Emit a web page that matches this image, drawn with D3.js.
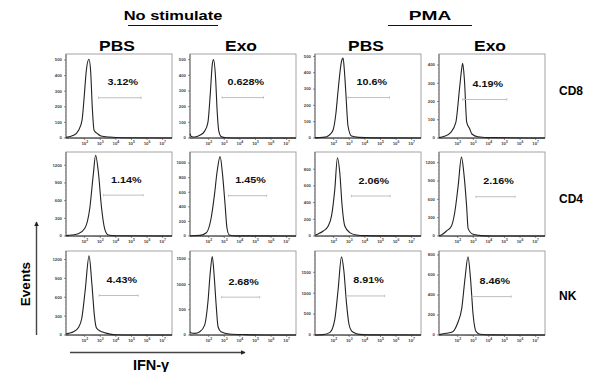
<!DOCTYPE html>
<html>
<head>
<meta charset="utf-8">
<script src="https://cdn.jsdelivr.net/npm/d3@7"></script>
<style>
  body { margin: 0; background: #fff; }
  svg { display: block; }
  text { font-family: Arial, "Liberation Sans", sans-serif; }
</style>
</head>
<body>
<svg id="chart" width="590" height="372"></svg>
<script>
// ---- data ----
const groupLabels = ['No stimulate', 'PMA'];
const colLabels = ['PBS', 'Exo', 'PBS', 'Exo'];
const rowLabels = ['CD8', 'CD4', 'NK'];
const percentLabels = [
  ['3.12%', '0.628%', '10.6%', '4.19%'],
  ['1.14%', '1.45%', '2.06%', '2.16%'],
  ['4.43%', '2.68%', '8.91%', '8.46%'],
];
const xDomainExp = [0.8, 7.6];
const xTickExp = [2, 3, 4, 5, 6, 7];
const yTicks = [
  [[0, 100, 200, 300, 400, 500], [0, 100, 200, 300, 400, 500], [0, 100, 200, 300, 400, 500], [0, 100, 200, 300, 400]],
  [[0, 300, 600, 900, 1200], [0, 200, 400, 600, 800, 1000], [0, 200, 400, 600, 800], [0, 300, 600, 900, 1200]],
  [[0, 300, 600, 900, 1200], [0, 500, 1000, 1500], [0, 500, 1000, 1500], [0, 200, 400, 600, 800]],
];
const yMax = [
  [539, 536, 515, 460],
  [1425, 1152, 1006, 1375],
  [1335, 1660, 2009, 840],
];
// gate marker: [start exponent, end exponent, event level]
const gates = [
  [[2.89, 5.62, 258], [2.86, 5.52, 258], [2.92, 5.58, 248], [2.32, 5.15, 211]],
  [[3.21, 5.75, 693], [3.27, 5.72, 553], [3.14, 5.62, 479], [3.17, 5.68, 643]],
  [[2.93, 5.43, 628], [2.83, 5.27, 748], [2.82, 5.26, 934], [2.93, 5.43, 384]],
];
// histogram outlines: [log10 IFN-g intensity, events]
const histCD8 = [
  [[0.8, 4], [1.28, 17], [1.61, 50], [1.83, 115], [1.96, 255], [2.1, 430], [2.27, 505], [2.38, 430], [2.49, 190], [2.6, 50], [2.82, 28], [3.04, 13], [3.59, 6], [4.5, 2], [7.6, 0]],
  [[0.8, 28], [0.88, 10], [1.1, 6], [1.43, 17], [1.74, 44], [1.95, 100], [2.1, 280], [2.23, 470], [2.31, 500], [2.44, 385], [2.54, 175], [2.64, 48], [2.79, 10], [3.11, 2], [4, 0], [7.6, 0]],
  [[0.8, 2], [1.3, 4], [1.55, 8], [1.8, 25], [1.97, 52], [2.14, 150], [2.28, 290], [2.5, 470], [2.6, 490], [2.68, 420], [2.77, 290], [2.92, 72], [3.14, 12], [3.6, 4], [4.5, 1], [7.6, 0]],
  [[0.8, 2], [1.13, 9], [1.56, 31], [1.88, 85], [2.11, 265], [2.26, 382], [2.32, 409], [2.43, 319], [2.58, 85], [2.76, 52], [2.91, 22], [3.3, 7], [4.2, 2], [7.6, 0]],
];
const histCD4 = [
  [[0.8, 8], [0.95, 11], [1.59, 39], [2.01, 130], [2.33, 479], [2.55, 1042], [2.7, 1369], [2.87, 1099], [3.08, 479], [3.29, 113], [3.51, 17], [4, 4], [7.6, 0]],
  [[0.8, 3], [1.43, 9], [1.85, 45], [2.16, 250], [2.37, 567], [2.54, 884], [2.73, 1088], [2.89, 839], [3.05, 431], [3.17, 113], [3.32, 14], [3.8, 2], [7.6, 0]],
  [[0.8, 10], [1.0, 25], [1.33, 60], [1.65, 120], [1.86, 240], [2.07, 559], [2.24, 938], [2.39, 758], [2.54, 359], [2.71, 120], [3.03, 40], [3.46, 12], [4.09, 4], [5, 1], [7.6, 0]],
  [[0.8, 5], [0.95, 16], [1.28, 82], [1.6, 165], [1.81, 385], [2.03, 824], [2.24, 1291], [2.41, 989], [2.57, 495], [2.67, 121], [2.99, 27], [3.5, 6], [4.2, 1], [7.6, 0]],
];
const histNK = [
  [[0.8, 15], [0.95, 26], [1.28, 52], [1.6, 120], [1.81, 262], [2.03, 707], [2.28, 1257], [2.46, 812], [2.63, 288], [2.74, 120], [2.89, 79], [3.1, 52], [3.43, 26], [3.96, 5], [5, 1], [7.6, 0]],
  [[0.8, 65], [0.88, 40], [1.11, 33], [1.43, 65], [1.74, 195], [1.95, 651], [2.1, 1237], [2.23, 1549], [2.35, 1172], [2.48, 586], [2.6, 163], [2.79, 65], [3.32, 20], [4.37, 7], [5.5, 1], [7.6, 0]],
  [[0.8, 1], [1.33, 8], [1.76, 62], [2.07, 374], [2.28, 1075], [2.5, 1869], [2.65, 1542], [2.82, 763], [2.98, 257], [3.14, 101], [3.46, 31], [3.88, 8], [4.6, 2], [7.6, 0]],
  [[0.8, 4], [1.26, 17], [1.68, 33], [1.99, 117], [2.26, 267], [2.47, 567], [2.66, 783], [2.82, 567], [2.99, 200], [3.18, 33], [3.44, 7], [4.2, 1], [7.6, 0]],
];
const histograms = [histCD8, histCD4, histNK];

// ---- layout ----
const colX = [66, 190, 315, 439];
const rowY = [54, 152, 251];
const panelW = 106;
const panelH = 84;

const svg = d3.select('#chart');

function stretchedText(sel, x, y, str, size, sx, anchor = 'middle') {
  return sel
    .append('text')
    .attr('transform', `translate(${x},${y}) scale(${sx},1)`)
    .attr('text-anchor', anchor)
    .attr('font-size', size)
    .attr('font-weight', 'bold')
    .attr('fill', '#000')
    .text(str);
}

// group headers with underline
const groupSpan = [[128, 218], [388, 472]];
groupLabels.forEach((label, i) => {
  const [a, b] = groupSpan[i];
  stretchedText(svg, (a + b) / 2, 20, label, 13.5, i === 0 ? 1.22 : 1.42);
  svg.append('line')
    .attr('x1', a).attr('x2', b).attr('y1', 25.5).attr('y2', 25.5)
    .attr('stroke', '#111').attr('stroke-width', 1.2);
});

colLabels.forEach((label, c) => {
  stretchedText(svg, colX[c] + panelW / 2 - 2, 51, label, 14.5, 1.2);
});

const rowLabelY = [91, 199, 296];
rowLabels.forEach((label, r) => {
  svg.append('text')
    .attr('x', 559).attr('y', rowLabelY[r] + 4.3)
    .attr('font-size', 12).attr('font-weight', 'bold').attr('fill', '#000')
    .text(label);
});

const line = d3.line().curve(d3.curveMonotoneX);

rowLabels.forEach((_, r) => {
  colLabels.forEach((__, c) => {
    const x0 = colX[c];
    const y0 = rowY[r];
    const g = svg.append('g').attr('transform', `translate(${x0},${y0})`);

    const x = d3.scaleLog()
      .domain(xDomainExp.map((e) => 10 ** e))
      .range([0, panelW]);
    const y = d3.scaleLinear().domain([0, yMax[r][c]]).range([panelH, 0]);

    // frame
    g.append('rect')
      .attr('width', panelW).attr('height', panelH)
      .attr('fill', '#fff').attr('stroke', '#9a9a9a').attr('stroke-width', 0.9);

    // y axis: major + minor ticks
    const ticks = yTicks[r][c];
    const step = ticks[1] - ticks[0];
    const minors = d3.range(0, yMax[r][c], step / 5);
    g.append('g').selectAll('line')
      .data(minors)
      .join('line')
      .attr('x1', -1).attr('x2', 0)
      .attr('y1', (d) => y(d)).attr('y2', (d) => y(d))
      .attr('stroke', '#777').attr('stroke-width', 0.4);
    g.append('g').selectAll('line')
      .data(ticks)
      .join('line')
      .attr('x1', -2).attr('x2', 0)
      .attr('y1', (d) => y(d)).attr('y2', (d) => y(d))
      .attr('stroke', '#444').attr('stroke-width', 0.6);
    g.append('g').selectAll('text')
      .data(ticks)
      .join('text')
      .attr('x', -4).attr('y', (d) => y(d) + 1.4)
      .attr('text-anchor', 'end')
      .attr('font-size', 4.3).attr('font-weight', 'bold').attr('fill', '#444')
      .text((d) => d);
    g.append('line')
      .attr('x1', 0).attr('x2', 0).attr('y1', 0).attr('y2', panelH)
      .attr('stroke', '#666').attr('stroke-width', 0.9);

    // x axis: decades + minor ticks
    const minorX = [];
    for (let e = 0; e <= 7; e++) {
      for (let m = 2; m <= 9; m++) {
        const v = m * 10 ** e;
        if (v > x.domain()[0] && v < x.domain()[1]) minorX.push(v);
      }
    }
    g.append('g').selectAll('line')
      .data(minorX)
      .join('line')
      .attr('x1', (d) => x(d)).attr('x2', (d) => x(d))
      .attr('y1', panelH).attr('y2', panelH + 1)
      .attr('stroke', '#777').attr('stroke-width', 0.4);
    const xt = g.append('g').selectAll('g')
      .data(xTickExp)
      .join('g')
      .attr('transform', (e) => `translate(${x(10 ** e)},${panelH})`);
    xt.append('line').attr('y2', 2).attr('stroke', '#444').attr('stroke-width', 0.6);
    const lbl = xt.append('text')
      .attr('y', 6.8).attr('text-anchor', 'middle')
      .attr('font-size', 4.3).attr('font-weight', 'bold').attr('fill', '#444');
    lbl.append('tspan').text('10');
    lbl.append('tspan').attr('dy', -1.7).attr('font-size', 3.4).text((e) => e);
    g.append('line')
      .attr('x1', 0).attr('x2', panelW).attr('y1', panelH).attr('y2', panelH)
      .attr('stroke', '#333').attr('stroke-width', 1);

    // histogram
    g.append('path')
      .datum(histograms[r][c])
      .attr('d', line.x((d) => x(10 ** d[0])).y((d) => y(d[1])))
      .attr('fill', 'none')
      .attr('stroke', '#222')
      .attr('stroke-width', 1.1)
      .attr('stroke-linejoin', 'round');

    // gate marker
    const [gs, ge, gl] = gates[r][c];
    const gy = y(gl);
    const gx1 = x(10 ** gs);
    const gx2 = x(10 ** ge);
    g.append('line')
      .attr('x1', gx1).attr('x2', gx2).attr('y1', gy).attr('y2', gy)
      .attr('stroke', '#b8b8b8').attr('stroke-width', 0.9);
    [gx1, gx2].forEach((gx) => {
      g.append('line')
        .attr('x1', gx).attr('x2', gx).attr('y1', gy - 1.2).attr('y2', gy + 1.2)
        .attr('stroke', '#b8b8b8').attr('stroke-width', 0.8);
    });

    stretchedText(g, (gx1 + gx2) / 2 + 3, gy - 12.5, percentLabels[r][c], 8.3, 1.3)
      .attr('fill', '#111');
  });
});

// Events / IFN-g axis arrows
const defs = svg.append('defs');
defs.append('marker')
  .attr('id', 'arrow')
  .attr('viewBox', '0 -4 8 8')
  .attr('refX', 7).attr('refY', 0)
  .attr('markerWidth', 5).attr('markerHeight', 5)
  .attr('markerUnits', 'userSpaceOnUse')
  .attr('orient', 'auto')
  .append('path')
  .attr('d', 'M0,-4L8,0L0,4Z')
  .attr('fill', '#222');

svg.append('line')
  .attr('x1', 36.5).attr('x2', 36.5).attr('y1', 335).attr('y2', 222)
  .attr('stroke', '#444').attr('stroke-width', 1.4)
  .attr('marker-end', 'url(#arrow)');
svg.append('line')
  .attr('x1', 70).attr('x2', 245).attr('y1', 352.5).attr('y2', 352.5)
  .attr('stroke', '#444').attr('stroke-width', 1.4)
  .attr('marker-end', 'url(#arrow)');

svg.append('text')
  .attr('transform', 'translate(30,284) rotate(-90)')
  .attr('text-anchor', 'middle')
  .attr('font-size', 13.5).attr('font-weight', 'bold').attr('fill', '#000')
  .text('Events');
svg.append('text')
  .attr('x', 151).attr('y', 370)
  .attr('text-anchor', 'middle')
  .attr('font-size', 14.5).attr('font-weight', 'bold').attr('fill', '#000')
  .text('IFN-γ');
</script>
</body>
</html>
